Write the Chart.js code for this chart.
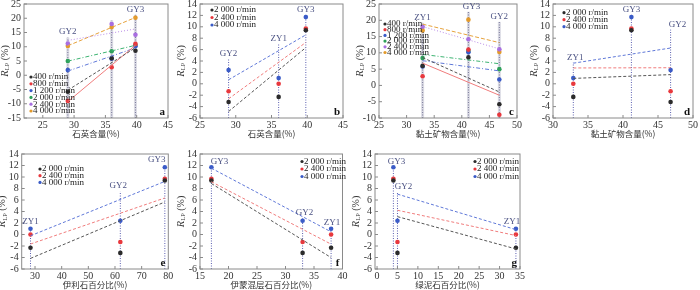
<!DOCTYPE html>
<html>
<head>
<meta charset="utf-8">
<script src="https://cdn.jsdelivr.net/npm/chart.js@4.4.0/dist/chart.umd.min.js"></script>
<style>
html, body { margin: 0; padding: 0; background: #fff; }
#wrap { position: relative; width: 700px; height: 290px; overflow: hidden; background: #fff; }
#wrap canvas { position: absolute; }
</style>
</head>
<body>
<div id="wrap"></div>
<script>
// ---- data (sample order: GY2, ZY1, GY3) ----
const samples = ['GY2', 'ZY1', 'GY3'];

// mineral content of each sample (%)
const quartz = [29, 36, 39.8];
const clay = [46.8, 32.9, 41.2];
const illite = [62, 28.3, 78.7];
const illiteSmectite = [33, 38, 17];
const chlorite = [5, 34, 4];

// R_LP (%) for six rotating speeds (panels a, c)
const speedsSix = ['400 r/min', '800 r/min', '1 200 r/min', '2 000 r/min', '2 400 r/min', '4 000 r/min'];
const r400 = [-5.8, 6.0, 8.6];
const r800 = [-9.0, 2.8, 11.0];
const r1200 = [1.8, 5.8, 10.2];
const r2000six = [5.0, 8.4, 10.6];
const r2400six = [11.1, 18.0, 14.2];
const r4000six = [10.3, 16.9, 20.2];

// R_LP (%) for three rotating speeds (panels b, d, e, f, g)
const speedsThree = ['2 000 r/min', '2 400 r/min', '4 000 r/min'];
const r2000 = [-3.2, -2.3, 9.4];
const r2400 = [-1.3, 0.0, 9.7];
const r4000 = [2.4, 1.0, 11.7];

// tick labels
const ticksQuartz = [25, 30, 35, 40, 45];
const ticksClayC = [25, 30, 35, 40, 45, 50];
const ticksClayD = [30, 35, 40, 45, 50];
const ticksIllite = [30, 40, 50, 60, 70, 80];
const ticksIS = [15, 20, 25, 30, 35, 40];
const ticksChlorite = [0, 5, 10, 15, 20, 25, 30, 35];
const ticksY25 = [-15, -10, -5, 0, 5, 10, 15, 20, 25];
const ticksYc = [-10, -5, 0, 5, 10, 15, 20, 25];
const ticksY14 = [-6, -4, -2, 0, 2, 4, 6, 8, 10, 12, 14];

const xTitles = ['石英含量(%)', '黏土矿物含量(%)', '伊利石百分比(%)', '伊蒙混层石百分比(%)', '绿泥石百分比(%)'];

// ---- styles ----
const SERIF = '"Liberation Serif", "DejaVu Serif", serif';
const CJK = '"Noto Sans CJK SC", "Noto Sans", sans-serif';

const styleSix = [
    { pt: '#2b2b2b', ln: '#555555', dash: [3, 2] },
    { pt: '#e8383d', ln: '#f07c7c', dash: [] },
    { pt: '#3a5bc7', ln: '#5f78d8', dash: [4, 2, 1, 2] },
    { pt: '#2ea05a', ln: '#3cb371', dash: [4, 2, 1, 2] },
    { pt: '#a86ee0', ln: '#b88ae6', dash: [1, 2] },
    { pt: '#e39a2a', ln: '#e6a23c', dash: [4, 2] }
];
const styleThree = [
    { pt: '#2b2b2b', ln: '#555555', dash: [3, 2] },
    { pt: '#e8383d', ln: '#f07c7c', dash: [3, 2] },
    { pt: '#3a5bc7', ln: '#5f78d8', dash: [3, 2] }
];

const seriesSix = [r400, r800, r1200, r2000six, r2400six, r4000six];
const seriesThree = [r2000, r2400, r4000];

// least-squares trend line, as drawn in the original figure
function fitLine(xs, ys, from, to) {
    const n = xs.length;
    const mx = xs.reduce((s, v) => s + v, 0) / n;
    const my = ys.reduce((s, v) => s + v, 0) / n;
    let sxy = 0, sxx = 0;
    xs.forEach((x, i) => { sxy += (x - mx) * (ys[i] - my); sxx += (x - mx) * (x - mx); });
    const k = sxy / sxx;
    return [{ x: from, y: my + k * (from - mx) }, { x: to, y: my + k * (to - mx) }];
}

// marks: vertical dotted line top (y value) and label offset, per sample GY2, ZY1, GY3
const panels = [
    { letter: 'a', area: [24, 3.5, 168, 118], x: [22, 45], y: [-15, 25], xTicks: ticksQuartz, yTicks: ticksY25,
      xs: quartz, series: seriesSix, names: speedsSix, styles: styleSix, title: xTitles[0], band: true,
      marks: [{ top: 13.2, dx: 0, show: true }, { top: 19.3, dx: 0, show: false }, { top: 21.2, dx: 0, show: true }],
      legend: { x: 31, y: 77, gap: 6.8 } },
    { letter: 'b', area: [200, 3.5, 343, 118], x: [25, 45], y: [-6, 14], xTicks: ticksQuartz, yTicks: ticksY14,
      xs: quartz, series: seriesThree, names: speedsThree, styles: styleThree, title: xTitles[0], band: false,
      marks: [{ top: 4.4, dx: 0, show: true }, { top: 7.0, dx: 0, show: true }, { top: 12.1, dx: 0, show: true }],
      legend: { x: 212, y: 10, gap: 7.5 } },
    { letter: 'c', area: [379, 3.5, 517, 118], x: [25, 50], y: [-10, 25], xTicks: ticksClayC, yTicks: ticksYc,
      xs: clay, series: seriesSix, names: speedsSix, styles: styleSix, title: xTitles[1], band: true,
      marks: [{ top: 19.5, dx: 0, show: true }, { top: 19.2, dx: 0, show: true }, { top: 22.6, dx: 3, show: true }],
      legend: { x: 385, y: 24, gap: 5.7 } },
    { letter: 'd', area: [553, 3.5, 693, 118], x: [30, 50], y: [-6, 14], xTicks: ticksClayD, yTicks: ticksY14,
      xs: clay, series: seriesThree, names: speedsThree, styles: styleThree, title: xTitles[1], band: false,
      marks: [{ top: 9.5, dx: 7, show: true }, { top: 3.7, dx: 2, show: true }, { top: 12.1, dx: 0, show: true }],
      legend: { x: 564, y: 12.7, gap: 7 } },
    { letter: 'e', area: [21.7, 153, 168.3, 269], x: [25, 80], y: [-6, 14], xTicks: ticksIllite, yTicks: ticksY14,
      xs: illite, series: seriesThree, names: speedsThree, styles: styleThree, title: xTitles[2], band: false,
      marks: [{ top: 7.5, dx: -2, show: true }, { top: 1.2, dx: 0, show: true }, { top: 12.0, dx: -8, show: true }],
      legend: { x: 40, y: 169, gap: 6.7 } },
    { letter: 'f', area: [200, 153, 342.5, 269], x: [15, 40], y: [-6, 14], xTicks: ticksIS, yTicks: ticksY14,
      xs: illiteSmectite, series: seriesThree, names: speedsThree, styles: styleThree, title: xTitles[3], band: false,
      marks: [{ top: 2.8, dx: 2, show: true }, { top: 1.1, dx: 1, show: true }, { top: 11.8, dx: 8, show: true }],
      legend: { x: 302, y: 161.5, gap: 7.5 } },
    { letter: 'g', area: [375, 153, 520, 269], x: [-0.5, 35], y: [-6, 14], xTicks: ticksChlorite, yTicks: ticksY14,
      xs: chlorite, series: seriesThree, names: speedsThree, styles: styleThree, title: xTitles[4], band: false,
      marks: [{ top: 7.3, dx: 6, show: true }, { top: 1.2, dx: -4, show: true }, { top: 11.8, dx: 3, show: true }],
      legend: { x: 475, y: 161.5, gap: 7.5 }, fitFrom: 5 }
];

const wrap = document.getElementById('wrap');
const Y_AXIS_W = 28, X_AXIS_H = 30, PAD_T = 8, PAD_R = 8, LEFT_ROOM = 36;

function makeDecor(p, ox, oy) {
    return {
        id: 'decor',
        beforeDatasetsDraw(chart) {
            const ctx = chart.ctx, ca = chart.chartArea;
            const xs = chart.scales.x, ys = chart.scales.y;
            ctx.save();
            p.xs.forEach((xv, i) => {
                const px = xs.getPixelForValue(xv);
                const top = ys.getPixelForValue(p.marks[i].top);
                if (p.band) {
                    ctx.setLineDash([]);
                    ctx.lineWidth = 3;
                    ctx.strokeStyle = 'rgba(190,190,205,0.55)';
                    ctx.beginPath(); ctx.moveTo(px, ca.bottom); ctx.lineTo(px, top); ctx.stroke();
                }
                ctx.setLineDash([1, 1.5]);
                ctx.lineWidth = 1;
                ctx.strokeStyle = p.band ? '#7a7a9a' : '#5b5fb0';
                ctx.beginPath(); ctx.moveTo(px, ca.bottom); ctx.lineTo(px, top); ctx.stroke();
            });
            ctx.restore();
        },
        afterDraw(chart) {
            const ctx = chart.ctx, ca = chart.chartArea;
            const xs = chart.scales.x, ys = chart.scales.y;
            ctx.save();
            // frame and inward ticks
            ctx.setLineDash([]);
            ctx.strokeStyle = '#8a8a8a';
            ctx.lineWidth = 1;
            ctx.strokeRect(ca.left, ca.top, ca.right - ca.left, ca.bottom - ca.top);
            ctx.beginPath();
            p.xTicks.forEach(v => {
                const px = xs.getPixelForValue(v);
                ctx.moveTo(px, ca.bottom); ctx.lineTo(px, ca.bottom - 3);
            });
            p.yTicks.forEach(v => {
                const py = ys.getPixelForValue(v);
                ctx.moveTo(ca.left, py); ctx.lineTo(ca.left + 3, py);
            });
            ctx.stroke();

            // x title
            ctx.fillStyle = '#333';
            ctx.font = '8.5px ' + CJK;
            ctx.textAlign = 'center';
            ctx.textBaseline = 'middle';
            ctx.fillText(p.title, (ca.left + ca.right) / 2, ca.bottom + 16);

            // y title: R_LP (%)
            ctx.save();
            ctx.translate(ca.left - 19, (ca.top + ca.bottom) / 2);
            ctx.rotate(-Math.PI / 2);
            ctx.textAlign = 'left';
            ctx.font = 'italic 10.5px ' + SERIF;
            const wR = ctx.measureText('R').width;
            ctx.font = '6.5px ' + SERIF;
            const wS = ctx.measureText('LP').width;
            ctx.font = '10px ' + SERIF;
            const wP = ctx.measureText(' (%)').width;
            let sx = -(wR + wS + wP) / 2;
            ctx.font = 'italic 10.5px ' + SERIF;
            ctx.fillText('R', sx, 0);
            ctx.font = '6.5px ' + SERIF;
            ctx.fillText('LP', sx + wR, 2.5);
            ctx.font = '10px ' + SERIF;
            ctx.fillText(' (%)', sx + wR + wS, 0);
            ctx.restore();

            // sample labels
            ctx.font = '9px ' + SERIF;
            ctx.fillStyle = '#4b5283';
            ctx.textAlign = 'center';
            ctx.textBaseline = 'bottom';
            p.xs.forEach((xv, i) => {
                const m = p.marks[i];
                if (!m.show) return;
                ctx.fillText(samples[i], xs.getPixelForValue(xv) + m.dx, ys.getPixelForValue(m.top) - 1);
            });

            // legend
            ctx.textAlign = 'left';
            ctx.textBaseline = 'middle';
            p.names.forEach((name, i) => {
                const lx = p.legend.x - ox, ly = p.legend.y + i * p.legend.gap - oy;
                ctx.fillStyle = p.styles[i].pt;
                ctx.beginPath(); ctx.arc(lx, ly, 1.6, 0, Math.PI * 2); ctx.fill();
                ctx.fillStyle = '#222';
                ctx.font = '9px ' + SERIF;
                ctx.fillText(name, lx + 2, ly);
            });

            // panel letter
            ctx.font = 'bold 11px ' + SERIF;
            ctx.fillStyle = '#111';
            ctx.textAlign = 'right';
            ctx.textBaseline = 'alphabetic';
            ctx.fillText(p.letter, ca.right - 3, ca.bottom - 3);
            ctx.restore();
        }
    };
}

panels.forEach(p => {
    const [l, t, r, b] = p.area;
    const ox = Math.floor(l) - LEFT_ROOM;
    const oy = Math.floor(t) - PAD_T;
    const w = Math.ceil(r - ox + PAD_R);
    const h = Math.ceil(b - oy + X_AXIS_H);
    const canvas = document.createElement('canvas');
    canvas.width = w; canvas.height = h;
    canvas.style.left = ox + 'px'; canvas.style.top = oy + 'px';
    canvas.style.width = w + 'px'; canvas.style.height = h + 'px';
    wrap.appendChild(canvas);

    const from = p.fitFrom !== undefined ? p.fitFrom : Math.min(...p.xs);
    const to = Math.max(...p.xs);
    const lines = p.series.map((vals, i) => ({
        data: fitLine(p.xs, vals, from, to),
        showLine: true,
        borderColor: p.styles[i].ln,
        borderWidth: 1,
        borderDash: p.styles[i].dash,
        pointRadius: 0,
        fill: false
    }));
    const points = p.series.map((vals, i) => ({
        data: p.xs.map((x, j) => ({ x: x, y: vals[j] })),
        showLine: false,
        pointRadius: 2.3,
        pointBackgroundColor: p.styles[i].pt,
        pointBorderColor: p.styles[i].pt,
        pointBorderWidth: 0
    }));

    const tickFont = { family: SERIF, size: 10 };
    new Chart(canvas, {
        type: 'scatter',
        data: { datasets: lines.concat(points) },
        options: {
            responsive: false,
            animation: false,
            events: [],
            layout: { padding: { left: l - ox - Y_AXIS_W, top: t - oy, right: w - (r - ox), bottom: 0 } },
            plugins: { legend: { display: false }, tooltip: { enabled: false } },
            scales: {
                x: {
                    type: 'linear', min: p.x[0], max: p.x[1],
                    grid: { display: false, drawTicks: false }, border: { display: false },
                    ticks: { font: tickFont, color: '#333', padding: 1, maxRotation: 0, autoSkip: false },
                    afterBuildTicks: s => { s.ticks = p.xTicks.map(v => ({ value: v })); },
                    afterFit: s => { s.height = X_AXIS_H; }
                },
                y: {
                    type: 'linear', min: p.y[0], max: p.y[1],
                    grid: { display: false, drawTicks: false }, border: { display: false },
                    ticks: { font: tickFont, color: '#333', padding: 3, autoSkip: false },
                    afterBuildTicks: s => { s.ticks = p.yTicks.map(v => ({ value: v })); },
                    afterFit: s => { s.width = Y_AXIS_W; }
                }
            }
        },
        plugins: [makeDecor(p, ox, oy)]
    });
});
</script>
</body>
</html>
